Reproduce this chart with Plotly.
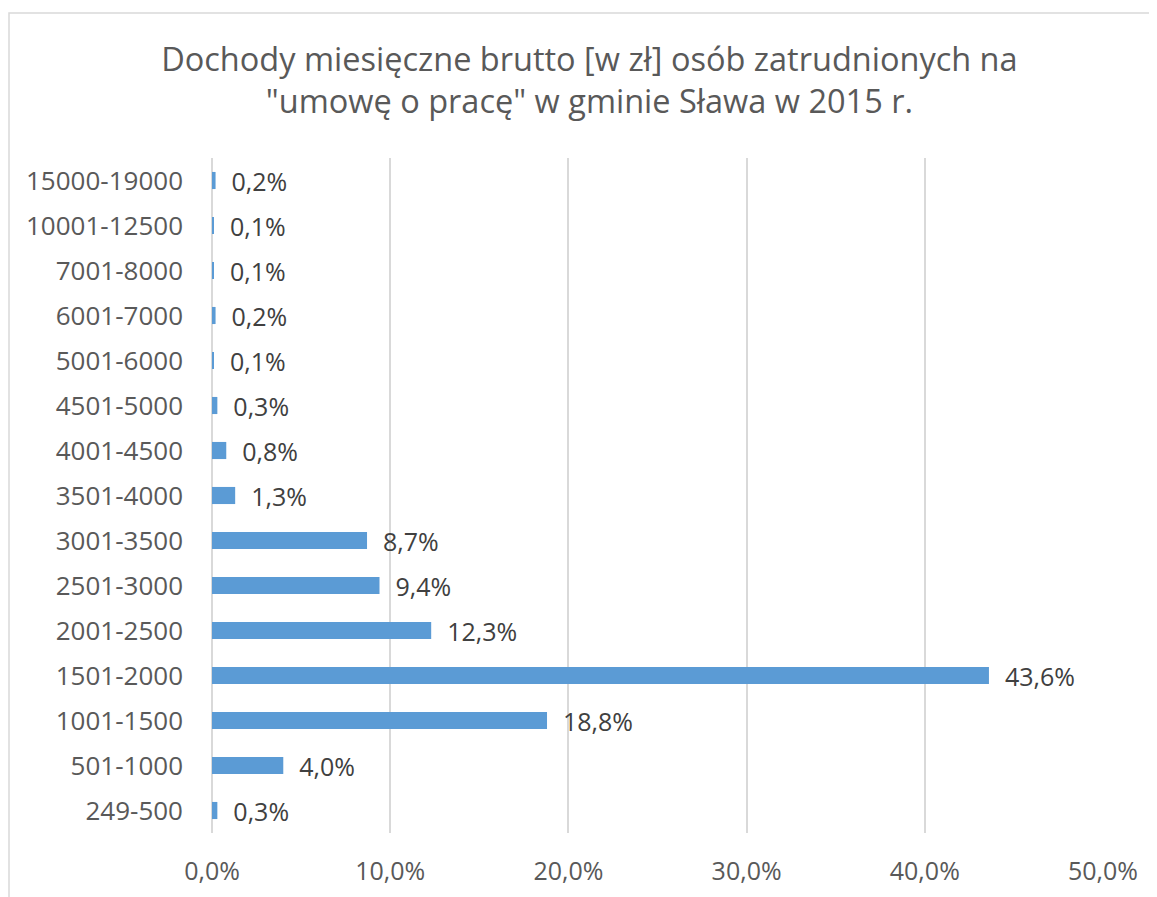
import plotly.graph_objects as go

categories = ["249-500", "501-1000", "1001-1500", "1501-2000", "2001-2500", "2501-3000",
              "3001-3500", "3501-4000", "4001-4500", "4501-5000", "5001-6000", "6001-7000",
              "7001-8000", "10001-12500", "15000-19000"]
values = [0.3, 4.0, 18.8, 43.6, 12.3, 9.4, 8.7, 1.3, 0.8, 0.3, 0.1, 0.2, 0.1, 0.1, 0.2]
x_ticks = [0, 10, 20, 30, 40, 50]
x_tick_labels = [f"{v:.1f}%".replace(".", ",") for v in x_ticks]

title_text = "Dochody miesięczne brutto [w zł] osób zatrudnionych na<br>\"umowę o pracę\" w gminie Sława w 2015 r."

FONT = "Open Sans"
W, H = 1157, 897
ml, mr, mt, mb = 204, 62, 150, 72

fig = go.Figure(go.Bar(
    y=categories, x=values, orientation="h",
    marker=dict(color="#5B9BD5", line=dict(width=0)),
    width=0.38,
    texttemplate="  %{x:.1f}%", textposition="outside", constraintext="none",
    cliponaxis=False,
    textfont=dict(family=FONT, size=25, color="#404040"),
))

pw = W - ml - mr
ph = H - mt - mb
fig.add_shape(type="rect", xref="paper", yref="paper",
              x0=(1 - ml) / pw, x1=(W + 20 - ml) / pw,
              y0=(H - mb - (H + 20)) / ph, y1=(H - mb - 5) / ph,
              line=dict(color="#D9D9D9", width=1.5), fillcolor="rgba(0,0,0,0)", layer="below")

fig.update_layout(
    width=W, height=H,
    margin=dict(l=ml, r=mr, t=mt, b=mb, autoexpand=False),
    paper_bgcolor="white", plot_bgcolor="white",
    separators=", ",
    showlegend=False,
    title=dict(text=title_text, xref="container", x=0.5025, xanchor="center",
               yref="container", y=0.930, yanchor="top",
               font=dict(family=FONT, size=32.5, color="#595959")),
    xaxis=dict(range=[0, 50], tickvals=x_ticks, ticktext=x_tick_labels,
               showgrid=True, gridcolor="#D9D9D9", gridwidth=1.5,
               zeroline=True, zerolinecolor="#D9D9D9", zerolinewidth=1.5,
               showline=False, ticks="", ticklabelstandoff=21, automargin=False,
               tickfont=dict(family=FONT, size=25, color="#595959")),
    yaxis=dict(categoryorder="array", categoryarray=categories, range=[-0.5, 14.5],
               showgrid=False, zeroline=False, showline=False, ticks="",
               ticklabelstandoff=28, automargin=False,
               tickfont=dict(family=FONT, size=26, color="#595959")),
)

fig.write_html("out.html")
